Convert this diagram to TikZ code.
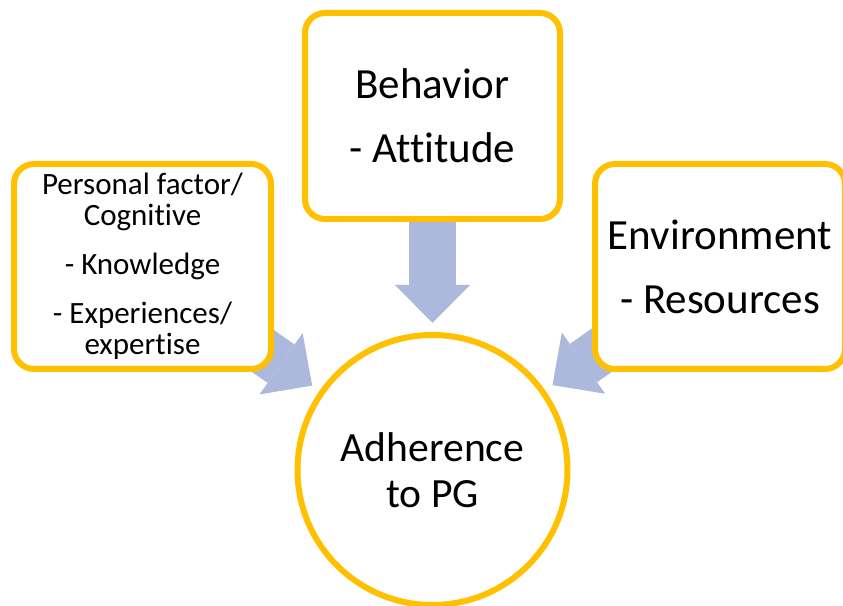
\documentclass[tikz,border=0pt]{standalone}
\usepackage{fontspec}
\setmainfont{Carlito}[Ligatures=NoCommon]
\usetikzlibrary{arrows.meta,backgrounds}
\definecolor{pggold}{RGB}{255,192,0}
\definecolor{pgarrow}{RGB}{172,185,220}
\tikzset{
  factor/.style={draw=pggold,line width=3pt,fill=white,rounded corners=10pt,
    align=center,inner sep=0pt},
  bigtext/.style={font=\fontsize{21.5}{24}\selectfont},
  flow/.style={draw=pgarrow,line width=23.5pt,shorten >=4.5pt,
    -{Triangle[width=37.5pt,length=19pt,line width=0pt]}}
}

\begin{document}
\begin{tikzpicture}[x=0.5pt,y=0.5pt]
\useasboundingbox (0,0) rectangle (843,606);
% the three factors
\node[factor,minimum width=128.5pt,minimum height=102.5pt,
  font=\fontsize{15.5}{15.5}\selectfont] (personal) at (142.5,339.5)
  {Personal factor/\\Cognitive\\[9pt]- Knowledge\\[9pt]- Experiences/\\expertise};
\node[factor,bigtext,minimum width=127.5pt,minimum height=103pt] (behavior) at (432.5,490)
  {Behavior\\[8pt]- Attitude};
\node[factor,bigtext,minimum width=125pt,minimum height=102.5pt] (environment) at (720,339.5)
  {Environment\\[8pt]- Resources};
% outcome
\node[circle,draw=pggold,line width=3pt,fill=white,align=center,
  font=\fontsize{20.8}{23}\selectfont,inner sep=0pt,minimum size=135pt]
  (adherence) at (432.5,136) {Adherence\\to PG};
% arrows go under the boxes
\begin{scope}[on background layer]
\draw[flow] (personal.center) -- (adherence);
\draw[flow] (behavior.center) -- (adherence);
\draw[flow] (environment.center) -- (adherence);
\end{scope}
\end{tikzpicture}
\end{document}
